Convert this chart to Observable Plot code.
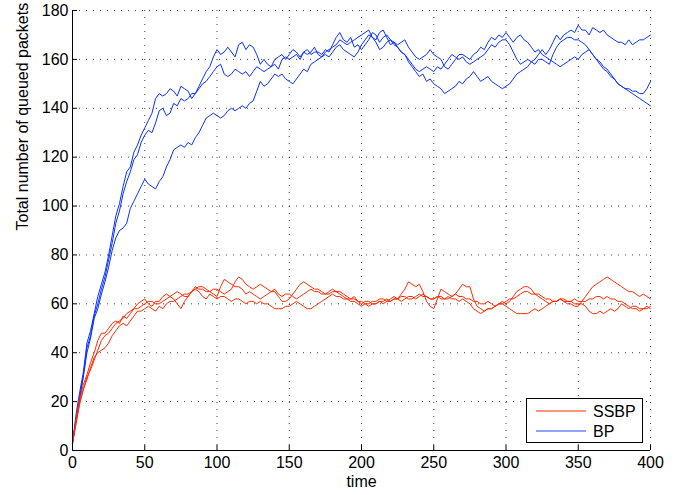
<!DOCTYPE html>
<html><head><meta charset="utf-8">
<script src="https://cdn.jsdelivr.net/npm/d3@7"></script>
<script src="https://cdn.jsdelivr.net/npm/@observablehq/plot@0.6"></script>
<style>
body{margin:0;background:#fff;}
#wrap{position:relative;width:683px;height:495px;font-family:"Liberation Sans",Arial,Helvetica,sans-serif;}
#legend{position:absolute;left:526px;top:398px;width:115px;height:43px;border:1px solid #000;background:#fff;}
</style></head><body><div id="wrap"></div>
<script>
// time samples (every 2.5 time units, 0..400)
const time = d3.range(0, 400.1, 2.5);
// BP runs (blue) — one row per 25 time units
const bp1 = [
  3,15,24,32,44,49,56,63,68,73,
  80,88,96,101,108,114,116,122,125,129,
  132,135,138,144,146,145,146,148,147,145,
  149,148,147,144,146,149,152,155,157,161,
  164,162,163,165,163,161,166,167,164,166,
  165,162,158,160,158,157,160,161,162,160,
  162,164,163,161,163,164,162,163,163,162,
  164,163,166,169,171,168,167,169,165,166,
  164,166,168,171,170,167,169,170,168,166,
  165,163,162,159,157,155,153,154,151,152,
  150,149,148,146,147,148,149,151,150,152,
  153,155,153,151,152,153,151,150,149,148,
  149,150,152,154,155,156,157,159,160,162,
  164,162,164,167,170,168,170,171,172,171,
  174,172,172,170,173,172,171,172,170,169,
  168,167,167,166,168,166,167,168,168,169,
  170];
const bp2 = [
  3,13,22,31,42,47,55,60,66,71,
  78,85,93,98,105,110,114,119,121,126,
  129,131,130,134,139,140,137,138,142,141,
  144,143,144,146,146,148,150,151,153,155,
  157,158,154,153,154,156,155,154,155,153,
  155,157,156,155,156,157,158,156,160,161,
  160,161,162,160,163,162,163,165,162,161,
  163,164,165,166,168,167,166,167,168,169,
  170,171,172,169,167,164,165,167,168,167,
  166,167,168,165,163,161,160,161,162,164,
  162,161,160,157,156,158,160,162,162,161,
  160,162,163,165,164,167,169,168,170,169,
  171,169,167,169,170,168,167,165,163,164,
  162,161,160,159,158,157,158,159,160,161,
  160,162,163,164,162,160,158,156,155,153,
  152,150,149,148,147,146,145,144,143,142,
  141];
const bp3 = [
  3,12,21,30,40,46,54,58,64,69,
  75,82,87,90,91,93,99,102,105,108,
  111,109,108,107,110,112,116,119,123,124,
  125,124,126,125,128,130,133,136,137,138,
  137,136,137,139,140,139,140,141,140,142,
  143,147,151,149,150,152,154,153,154,152,
  151,150,152,154,156,155,158,159,160,161,
  162,161,163,165,166,164,163,162,161,163,
  166,168,170,169,168,171,172,169,166,167,
  165,163,162,160,158,156,155,156,157,156,
  155,157,156,158,160,162,161,160,161,159,
  158,159,160,161,162,164,166,165,167,168,
  168,166,163,160,158,159,160,159,158,160,
  160,159,158,162,165,167,168,169,169,168,
  168,167,166,164,162,160,159,157,156,154,
  152,150,149,148,148,147,147,146,146,148,
  151];
// SSBP runs (red)
const ssbp1 = [
  3,13,21,27,31,36,40,45,48,48,
  50,52,53,52,55,54,56,58,60,61,
  62,60,59,61,61,63,64,63,62,60,
  58,61,63,65,67,66,66,65,65,64,
  63,67,70,69,68,67,67,66,64,65,
  64,63,62,63,64,65,66,64,63,64,
  64,63,62,63,64,65,66,65,65,64,
  64,65,66,65,65,64,63,62,62,61,
  61,60,59,60,60,61,60,61,61,62,
  62,64,66,69,68,67,68,65,61,59,
  58,62,66,65,64,63,64,66,68,67,
  67,62,59,58,57,58,58,59,60,61,
  60,61,63,65,66,67,67,66,64,64,
  63,62,62,61,61,62,61,60,60,59,
  59,61,63,65,67,68,69,70,71,70,
  69,68,67,66,65,65,64,63,64,63,
  62];
const ssbp2 = [
  3,11,19,25,30,33,37,41,45,47,
  48,50,52,53,54,56,57,58,58,59,
  60,61,61,60,60,61,62,63,64,65,
  64,63,63,65,66,67,67,66,65,66,
  66,65,64,65,66,69,71,70,68,67,
  66,67,68,67,66,65,65,63,61,61,
  62,64,66,68,69,68,67,66,66,65,
  64,64,65,65,64,63,62,62,63,61,
  60,61,61,60,60,61,61,62,61,62,
  62,61,62,63,63,62,63,64,63,62,
  62,63,62,62,63,62,62,61,62,61,
  60,58,57,56,57,58,58,59,60,60,
  59,58,57,56,56,56,56,57,58,57,
  58,59,60,61,61,62,61,61,61,60,
  60,60,59,57,56,56,57,56,57,58,
  57,58,60,59,58,59,59,58,58,59,
  58];
const ssbp3 = [
  3,12,20,25,29,34,38,40,41,42,
  44,47,49,51,52,51,53,55,57,57,
  58,59,58,57,59,58,60,61,61,62,
  63,64,64,65,66,65,63,62,64,63,
  62,63,63,62,61,62,62,61,60,61,
  61,60,61,60,60,59,58,58,58,59,
  59,60,61,60,59,58,58,59,60,61,
  62,63,64,63,63,62,62,61,61,60,
  59,60,60,61,61,62,62,61,62,63,
  62,63,63,62,62,63,64,63,63,62,
  62,63,63,62,62,63,64,63,63,62,
  62,61,61,60,60,61,60,59,60,60,
  61,62,62,63,64,65,65,64,64,63,
  62,61,60,61,61,62,62,61,61,62,
  61,61,61,62,62,63,63,62,63,62,
  62,61,61,60,59,58,58,57,58,58,
  59];

const xTicks = [0,50,100,150,200,250,300,350,400];
const yTicks = [0,20,40,60,80,100,120,140,160,180];
const seriesNames = ["SSBP","BP"];
const seriesColors = ["#ff2a00","#0a30ff"];

const runs = [
  {run:"bp1", group:"BP", v:bp1},{run:"bp2", group:"BP", v:bp2},{run:"bp3", group:"BP", v:bp3},
  {run:"s1", group:"SSBP", v:ssbp1},{run:"s2", group:"SSBP", v:ssbp2},{run:"s3", group:"SSBP", v:ssbp3}
];
const rows = runs.flatMap(r => r.v.map((v,i) => ({t: time[i], v, run: r.run, group: r.group})));

const font = '"Liberation Sans",Arial,Helvetica,sans-serif';
const chart = Plot.plot({
  width: 683, height: 495,
  marginLeft: 72, marginRight: 33, marginTop: 10, marginBottom: 45,
  style: {fontFamily: font, fontSize: "16px", background: "#fff", overflow: "visible"},
  x: {domain: [0, 400]},
  y: {domain: [0, 180]},
  color: {domain: seriesNames, range: seriesColors},
  marks: [
    Plot.gridX(xTicks, {stroke: "#000", strokeOpacity: 0.75, strokeDasharray: "1,6"}),
    Plot.gridY(yTicks, {stroke: "#000", strokeOpacity: 0.75, strokeDasharray: "1,6"}),
    Plot.line(rows, {x: "t", y: "v", z: "run", stroke: "group", strokeWidth: 1}),
    Plot.ruleX([0], {stroke: "#000"}),
    Plot.ruleY([0], {stroke: "#000"}),
    Plot.ruleX(xTicks, {stroke: "#000", insetTop: 435}),
    Plot.ruleY(yTicks, {stroke: "#000", insetRight: 573}),
    Plot.axisX({ticks: xTicks, tickSize: 0, tickPadding: 6, label: null, fontSize: 16}),
    Plot.axisY({ticks: yTicks, tickSize: 0, tickPadding: 4, label: null, fontSize: 16}),
    Plot.text(["time"], {frameAnchor: "bottom", dy: 36, fontSize: 16, fill: "#000"}),
    Plot.text(["Total number of queued packets"], {frameAnchor: "left", dx: -50, rotate: -90, fontSize: 16, fill: "#000"})
  ]
});
const wrap = document.getElementById("wrap");
wrap.appendChild(chart);

// legend
const leg = document.createElement("div");
leg.id = "legend";
const ns = "http://www.w3.org/2000/svg";
const ls = document.createElementNS(ns, "svg");
ls.setAttribute("width", 115); ls.setAttribute("height", 43);
ls.style.fontFamily = font;
seriesNames.forEach((name, i) => {
  const y = 12 + i * 20;
  const ln = document.createElementNS(ns, "line");
  ln.setAttribute("x1", 9); ln.setAttribute("x2", 59);
  ln.setAttribute("y1", y); ln.setAttribute("y2", y);
  ln.setAttribute("stroke", seriesColors[i]); ln.setAttribute("stroke-width", i === 1 ? 1.5 : 1);
  if (i === 1) ln.setAttribute("stroke-opacity", 0.6);
  ls.appendChild(ln);
  const tx = document.createElementNS(ns, "text");
  tx.setAttribute("x", 66); tx.setAttribute("y", y + 6);
  tx.setAttribute("font-size", 16);
  tx.textContent = name;
  ls.appendChild(tx);
});
leg.appendChild(ls);
wrap.appendChild(leg);
</script></body></html>
